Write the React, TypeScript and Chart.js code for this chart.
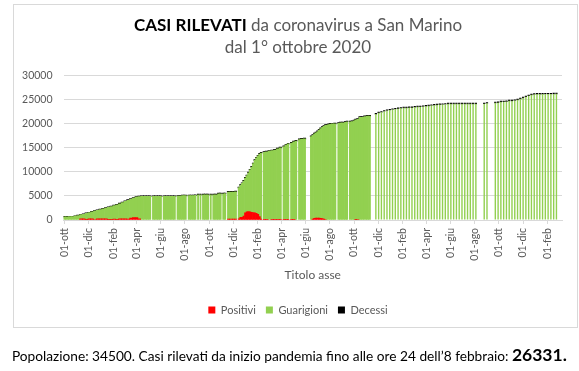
import React, { useEffect, useRef } from "react";
import { Chart, registerables } from "chart.js";

Chart.register(...registerables);
Chart.defaults.font.family = "Lato, 'Noto Sans', sans-serif";

// x = days since 1 ottobre 2020
const tickDays = [0, 61, 123, 182, 243, 304, 365, 426, 488, 547, 608, 669, 730, 791, 853, 912, 973, 1034, 1095, 1156, 1218];
const tickLabels = [
  "01-ott", "01-dic", "01-feb", "01-apr", "01-giu", "01-ago", "01-ott", "01-dic", "01-feb", "01-apr", "01-giu",
  "01-ago", "01-ott", "01-dic", "01-feb", "01-apr", "01-giu", "01-ago", "01-ott", "01-dic", "01-feb",
];
const yTicks = [0, 5000, 10000, 15000, 20000, 25000, 30000];

// period with (almost) daily reports; null = day without data
const denseDay = [
  0, 7, 14, 21, 28, 35, 42, 49, 56, 63,
  70, 77, 84, 91, 98, 105, 112, 119, 126, 133,
  140, 147, 154, 161, 168, 175, 182, 189, 196, 203,
  210, 216, 220, 224, 231, 238, 243, 247, 251, 258,
  265, 272, 278, 282, 286, 293, 298, 305, 310, 314,
  321, 327, 330, 334, 337, 341, 343, 346, 350, 357,
  362, 366, 369, 372, 376, 383, 390, 394, 397, 401,
  405, 409, 413, 420, 427, 432, 436, 440, 444, 448,
  452, 456, 460, 464, 468, 472, 476, 480, 484, 488,
  492, 496, 499, 503, 510, 517, 524, 531, 538, 545,
  549, 553, 560, 564, 568, 572, 579, 584, 588, 592,
  599, 606, 610, 614, 618, 622, 626, 630, 634, 638,
  642, 646, 650, 654, 658, 662, 666, 670, 676, 682,
  687, 691, 696, 703, 709, 712, 716, 720, 726, 730,
  734, 740, 745, 751, 758, 764, 769,
];
const _ = null;
const densePositivi = [
  _, _, _, _, _, _, 250, 250, 50, 250,
  250, 100, 250, 250, 250, 250, 80, 80, 200, 80,
  250, 250, 250, 200, 400, 480, 480, 250, _, _,
  _, _, _, _, _, _, _, _, _, _,
  _, _, _, _, _, _, _, _, _, _,
  _, _, _, _, _, _, _, _, _, _,
  _, _, _, _, _, _, _, _, _, _,
  _, _, 200, 200, 200, 200, _, 250, 550, 560,
  830, 1500, 1700, 1750, 1700, 1600, 1550, 1500, 1400, 1200,
  700, 200, _, 150, 150, _, 150, 150, 150, 150,
  _, 150, 150, 150, _, 150, 150, _, _, _,
  _, _, _, _, _, _, 200, 350, 400, 400,
  400, 350, 300, 200, 100, _, _, _, _, _,
  _, _, _, _, _, _, _, _, _, _,
  50, 100, _, _, _, _, _,
];
const denseGuarigioni = [
  678, 683, 688, 693, 808, 935, 855, 952, 1350, 1278,
  1445, 1743, 1760, 1918, 2065, 2203, 2550, 2728, 2776, 3074,
  3132, 3370, 3618, 3896, 3934, 4072, 4281, 4610, 4900, 4900,
  4900, 4900, _, 4900, 4900, 4900, 4900, _, 4900, 4900,
  4900, 4900, 4910, _, 4970, 4970, 5060, 5060, _, 5060,
  5060, 5060, 5110, _, 5250, _, 5250, _, 5250, 5250,
  5250, _, 5250, _, 5250, 5250, 5450, 5450, _, 5450,
  5460, _, 5609, 5609, 5609, 5658, _, 6457, 6657, 7046,
  7276, 7205, 7505, 8054, 8703, 9402, 10151, 10900, 11499, 12098,
  12997, 13696, _, 13895, 14024, 14293, 14242, 14392, 14641, 14840,
  _, 15089, 15438, 15638, _, 15837, 16086, 16386, _, 16685,
  16785, 16835, _, _, _, 17344, 17384, 17534, 17684, 17983,
  18283, 18633, 18933, 19232, 19532, 19732, 19832, 19912, 19942, 19982,
  _, 20082, 20192, 20192, 20282, 20402, _, 20402, 20432, 20582,
  20772, 20781, 21301, 21301, 21481, 21581, 21581,
];
const denseDecessi = [
  42, 42, 42, 42, 42, 45, 45, 48, 50, 52,
  55, 57, 60, 62, 65, 67, 70, 72, 74, 76,
  78, 80, 82, 84, 86, 88, 89, 90, 90, 90,
  90, 90, _, 90, 90, 90, 90, _, 90, 90,
  90, 90, 90, _, 90, 90, 90, 90, _, 90,
  90, 90, 90, _, 90, _, 90, _, 90, 90,
  90, _, 90, _, 90, 90, 90, 90, _, 90,
  90, _, 91, 91, 91, 92, _, 93, 93, 94,
  94, 95, 95, 96, 97, 98, 99, 100, 101, 102,
  103, 104, _, 105, 106, 107, 108, 108, 109, 110,
  _, 111, 112, 112, _, 113, 114, 114, _, 115,
  115, 115, _, _, _, 116, 116, 116, 116, 117,
  117, 117, 117, 118, 118, 118, 118, 118, 118, 118,
  _, 118, 118, 118, 118, 118, _, 118, 118, 118,
  118, 119, 119, 119, 119, 119, 119,
];

// weekly reports
const weeklyDay = [
  785, 792, 799, 806, 813, 820, 827, 834, 841, 848,
  855, 862, 869, 876, 883, 890, 897, 904, 911, 918,
  925, 932, 939, 946, 953, 960, 967, 974, 981, 988,
  995, 1002, 1009, 1016, 1023, 1030, 1037, 1058, 1065, 1086,
  1093, 1100, 1107, 1114, 1121, 1128, 1135, 1142, 1149, 1156,
  1163, 1170, 1177, 1184, 1191, 1198, 1205, 1212, 1219, 1226,
  1233, 1240,
];
const weeklyPositivi = [
  _, 100, _, _, _, _, _, _, _, _,
  _, _, _, _, _, _, _, _, _, _,
  _, _, _, _, _, _, _, _, _, _,
  _, _, _, _, _, _, _, _, _, _,
  _, _, _, _, _, _, _, _, _, _,
  _, _, _, _, _, _, _, _, _, _,
  _, _,
];
const weeklyGuarigioni = [
  22010, 22170, 22380, 22600, 22750, 22859, 22949, 23069, 23149, 23229,
  23289, 23309, 23339, 23358, 23458, 23498, 23538, 23578, 23658, 23708,
  23778, 23857, 23917, 23957, 23987, 24057, 24127, 24127, 24127, 24127,
  24127, 24127, 24127, 24127, 24127, 24127, 24137, 24156, 24256, 24326,
  24396, 24536, 24556, 24606, 24735, 24755, 24815, 24955, 25155, 25355,
  25605, 25804, 26004, 26104, 26144, 26154, 26164, 26174, 26179, 26182,
  26184, 26205,
];
const weeklyDecessi = [
  120, 120, 120, 120, 120, 121, 121, 121, 121, 121,
  121, 121, 121, 122, 122, 122, 122, 122, 122, 122,
  122, 123, 123, 123, 123, 123, 123, 123, 123, 123,
  123, 123, 123, 123, 123, 123, 123, 124, 124, 124,
  124, 124, 124, 124, 125, 125, 125, 125, 125, 125,
  125, 126, 126, 126, 126, 126, 126, 126, 126, 126,
  126, 126,
];

const RED = "#ff0000";
const GREEN = "#92d050";
const BLACK = "#000000";
const GREY_TEXT = "#595959";
const GRID = "#d9d9d9";

// centre the legend under the chart frame rather than the canvas
const legendShift = {
  id: "legendShift",
  afterLayout(chart: any) {
    if (chart.legend) {
      chart.legend.left += 34;
    }
  },
};

export default function App() {
  const ref = useRef<HTMLCanvasElement>(null);

  useEffect(() => {
    const canvas = ref.current;
    if (!canvas) return;
    const pts = (xs: number[], ys: (number | null)[]) => xs.map((x, i) => ({ x, y: ys[i] }));
    const dense: any = { barThickness: "flex", categoryPercentage: 1, barPercentage: 1 };
    const weekly: any = { barThickness: 1.4, categoryPercentage: 1, barPercentage: 1, inflateAmount: 0 };
    const chart = new Chart(canvas, {
      type: "bar",
      data: {
        datasets: [
          { label: "Positivi", data: pts(denseDay, densePositivi), backgroundColor: RED, ...dense },
          { label: "Guarigioni", data: pts(denseDay, denseGuarigioni), backgroundColor: GREEN, ...dense },
          { label: "Decessi", data: pts(denseDay, denseDecessi), backgroundColor: BLACK, ...dense, inflateAmount: 0.5 },
          { label: "Positivi", data: pts(weeklyDay, weeklyPositivi), backgroundColor: RED, ...weekly },
          { label: "Guarigioni", data: pts(weeklyDay, weeklyGuarigioni), backgroundColor: GREEN, ...weekly },
          { label: "Decessi", data: pts(weeklyDay, weeklyDecessi), backgroundColor: BLACK, ...weekly, inflateAmount: 0.4 },
        ] as any,
      },
      plugins: [legendShift],
      options: {
        animation: false,
        responsive: false,
        devicePixelRatio: 1,
        layout: { padding: { left: 0, right: 17, top: 75.5, bottom: 4.5 } },
        plugins: {
          legend: {
            position: "bottom",
            labels: {
              boxWidth: 7,
              boxHeight: 7,
              padding: 10,
              color: GREY_TEXT,
              font: { size: 11 },
              filter: (item: any) => item.datasetIndex < 3,
            },
          },
          tooltip: { enabled: false },
          title: { display: false },
        },
        scales: {
          x: {
            type: "linear",
            stacked: true,
            min: -2,
            max: 1254,
            offset: false,
            grid: { offset: false, drawOnChartArea: false, drawTicks: true, tickLength: 4, color: GRID },
            border: { display: true, color: GRID },
            afterBuildTicks: (s: any) => {
              s.ticks = tickDays.map((v) => ({ value: v }));
            },
            afterFit: (s: any) => {
              s.height = 74.5;
            },
            ticks: {
              autoSkip: false,
              maxRotation: 90,
              minRotation: 90,
              padding: 4,
              color: GREY_TEXT,
              font: { size: 10.5 },
              callback: (_v: any, i: number) => tickLabels[i],
            },
            title: {
              display: true,
              text: "Titolo asse",
              color: GREY_TEXT,
              font: { size: 12 },
              padding: { top: 0, bottom: 12 },
            },
          } as any,
          y: {
            stacked: true,
            min: 0,
            max: 30000,
            afterBuildTicks: (s: any) => {
              s.ticks = yTicks.map((v) => ({ value: v }));
            },
            afterFit: (s: any) => {
              s.width = 63.5;
            },
            ticks: {
              padding: 11,
              color: GREY_TEXT,
              font: { size: 10.5 },
              callback: (v: any) => String(v),
            },
            grid: { color: GRID, drawTicks: false },
            border: { display: false },
          } as any,
        },
      },
    });
    return () => chart.destroy();
  }, []);

  return (
    <div style={{ position: "fixed", left: 0, top: 0, width: 579, height: 371, background: "#fff", overflow: "hidden" }}>
      <canvas ref={ref} width={579} height={330} style={{ position: "absolute", left: 0, top: 0, width: 579, height: 330 }} />
      <div
        style={{
          position: "absolute",
          left: 13,
          top: 4,
          width: 565,
          height: 324,
          border: `1px solid ${GRID}`,
          boxSizing: "border-box",
          pointerEvents: "none",
        }}
      />
      <div
        style={{
          position: "absolute",
          left: 13,
          top: 14,
          width: 570,
          textAlign: "center",
          fontFamily: "Lato, sans-serif",
          fontSize: 17,
          lineHeight: "22px",
          color: GREY_TEXT,
        }}
      >
        <div>
          <span style={{ fontWeight: 700, color: "#000" }}>CASI RILEVATI</span> da coronavirus a San Marino
        </div>
        <div>dal 1° ottobre 2020</div>
      </div>
      <div
        style={{
          position: "absolute",
          left: 12,
          top: 345,
          whiteSpace: "nowrap",
          fontFamily: "Lato, sans-serif",
          fontSize: 13.7,
          lineHeight: "20px",
          color: "#000",
        }}
      >
        Popolazione: 34500. Casi rilevati da inizio pandemia fino alle ore 24 dell’8 febbraio:{" "}
        <span style={{ fontWeight: 700, fontSize: 17.5 }}>26331.</span>
      </div>
    </div>
  );
}
